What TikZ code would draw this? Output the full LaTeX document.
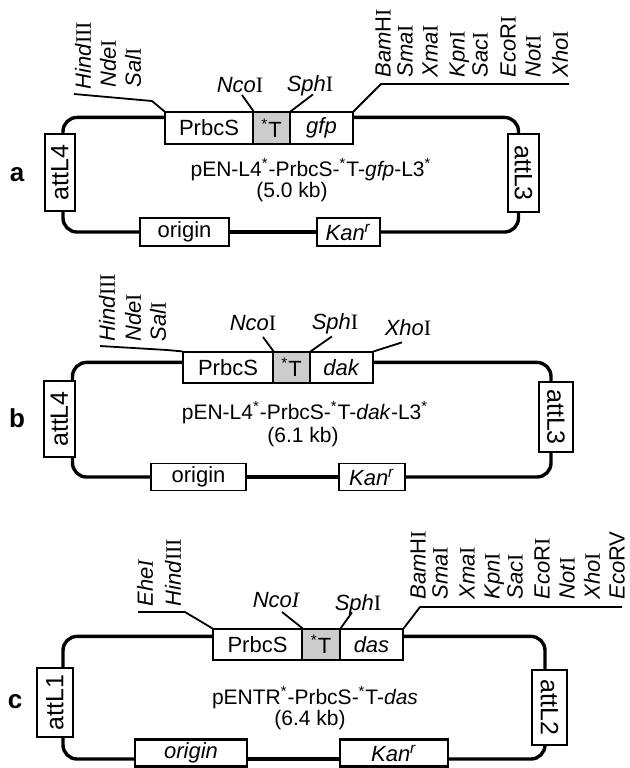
\documentclass[tikz,border=0pt]{standalone}
\usepackage{fontspec}
\setmainfont{Liberation Sans}
\newfontfamily\romfont{Liberation Serif}
\usepackage{graphicx}
\newcommand{\enz}[2]{\textit{#1}{\romfont #2}}
\newcommand{\kan}{\textit{Kan}\textsuperscript{\textit{r}}}
\newcommand{\st}{\textsuperscript{*}}
\newcommand{\att}[2]{\rotatebox{#1}{\fontsize{12.5}{13}\selectfont #2}}

\begin{document}
\begin{tikzpicture}[x=0.5pt, y=-0.5pt,
    part/.style={draw, fill=white, line width=0.6pt, inner sep=0pt, font=\fontsize{11}{12}\selectfont},
    site/.style={inner sep=0pt, text depth=0pt, font=\fontsize{11}{12}\selectfont},
    loopline/.style={line width=1.7pt, rounded corners=7pt},
    siteline/.style={line width=0.9pt},
    title/.style={inner sep=0pt, font=\fontsize{10.5}{12}\selectfont},
    panel/.style={inner sep=0pt, font=\fontsize{13}{14}\selectfont\bfseries}]
\useasboundingbox (0,0) rectangle (629,768);

% a
\node[panel] (labA) at (17,175) {a};
\node[part, minimum width=44pt, minimum height=16pt] (prA) at (209,128) {PrbcS};
\node[part, minimum width=18.5pt, minimum height=16pt, fill=gray!40] (tA) at (271.5,128) {\st T};
\node[part, minimum width=31.5pt, minimum height=16pt] (gfpA) at (321.5,128) {\textit{gfp}};
\node[part, minimum width=15pt, minimum height=38.5pt] (attLa) at (60,172.5) {\att{90}{attL4}};
\node[part, minimum width=15.5pt, minimum height=39pt] (attRa) at (523.5,173) {\att{-90}{attL3}};
\node[part, minimum width=44.5pt, minimum height=14pt] (oriA) at (184.5,232) {origin};
\node[part, minimum width=31.5pt, minimum height=14pt] (kanA) at (348.5,232) {\kan};
\node[title] (nameA) at (311,170) {pEN-L4\st-PrbcS-\st T-\textit{gfp}-L3\st};
\node[title] (sizeA) at (292,192) {(5.0 kb)};
\draw[loopline] ([yshift=-3pt]prA.north west) -| ([xshift=1.5pt]attLa.north);
\draw[loopline] ([xshift=1.5pt]attLa.south) |- (oriA.west);
\draw[loopline] (oriA.east) -- (kanA.west);
\draw[loopline] (kanA.east) -| ([xshift=-2.5pt]attRa.south);
\draw[loopline] ([yshift=-3pt]gfpA.north east) -| ([xshift=-2.5pt]attRa.north);
\node[site, rotate=90, anchor=west] (hindA) at (83,90) {\enz{Hind}{III}};
\node[site, rotate=90, anchor=west] (ndeA) at (108,88) {\enz{Nde}{I}};
\node[site, rotate=90, anchor=west] (salA) at (133,88) {\enz{Sal}{I}};
\coordinate (leftA) at (74,94);
\draw[siteline] (leftA) -- (152,101) -- (prA.north west);
\node[site] (ncoA) at (240,85) {\enz{Nco}{I}};
\node[site] (sphA) at (310,84) {\enz{Sph}{I}};
\draw[siteline] ([xshift=1pt,yshift=-1pt]ncoA.south) -- (prA.north east);
\draw[siteline] ([xshift=1.5pt,yshift=-1pt]sphA.south) -- (tA.north east);
\foreach \x/\n/\t in {383/bamA/{\textit{Bam}H{\romfont I}}, 405/smaA/{\enz{Sma}{I}},
    430/xmaA/{\enz{Xma}{I}}, 457/kpnA/{\enz{Kpn}{I}}, 480/sacA/{\enz{Sac}{I}},
    508/ecoA/{\textit{Eco}R{\romfont I}}, 533/notA/{\enz{Not}{I}}, 560/xhoA/{\enz{Xho}{I}}}
  \node[site, rotate=90, anchor=west] (\n) at (\x,78) {\t};
\coordinate (rightA) at (569,84);
\draw[siteline] (gfpA.north east) -- (381,84) -- (rightA);

% b
\node[panel] (labB) at (17,418) {b};
\node[part, minimum width=45pt, minimum height=15.5pt] (prB) at (228,367.5) {PrbcS};
\node[part, minimum width=18.5pt, minimum height=15.5pt, fill=gray!40] (tB) at (291.5,367.5) {\st T};
\node[part, minimum width=31.5pt, minimum height=15.5pt] (dakB) at (341.5,367.5) {\textit{dak}};
\node[part, minimum width=15.5pt, minimum height=38pt] (attLb) at (59.5,419) {\att{90}{attL4}};
\node[part, minimum width=17pt, minimum height=35pt] (attRb) at (556,417) {\att{-90}{attL3}};
\node[part, minimum width=47.5pt, minimum height=13.5pt] (oriB) at (198.5,477) {origin};
\node[part, minimum width=33pt, minimum height=13.5pt] (kanB) at (372,477) {\kan};
\node[title] (nameB) at (305,413) {pEN-L4\st-PrbcS-\st T-\textit{dak}-L3\st};
\node[title] (sizeB) at (303,437) {(6.1 kb)};
\draw[loopline] ([yshift=-5.5pt]prB.north west) -| ([xshift=6.5pt]attLb.north);
\draw[loopline] ([xshift=6.5pt]attLb.south) |- (oriB.west);
\draw[loopline] (oriB.east) -- (kanB.west);
\draw[loopline] (kanB.east) -| ([xshift=-2.5pt]attRb.south);
\draw[loopline] ([yshift=-5.5pt]dakB.north east) -| ([xshift=-2.5pt]attRb.north);
\node[site, rotate=90, anchor=west] (hindB) at (107,342) {\enz{Hind}{III}};
\node[site, rotate=90, anchor=west] (ndeB) at (133,342) {\enz{Nde}{I}};
\node[site, rotate=90, anchor=west] (salB) at (158,342) {\enz{Sal}{I}};
\coordinate (leftB) at (100,346);
\draw[siteline] (leftB) -- (167,350) -- (prB.north west);
\node[site] (ncoB) at (253,323) {\enz{Nco}{I}};
\node[site] (sphB) at (335,322) {\enz{Sph}{I}};
\node[site] (xhoB) at (408,328) {\enz{Xho}{I}};
\draw[siteline] ([xshift=5pt,yshift=-3pt]ncoB.south) -- (prB.north east);
\draw[siteline] ([xshift=-1.5pt,yshift=-3pt]sphB.south) -- (tB.north east);
\draw[siteline] ([xshift=-3pt,yshift=-3pt]xhoB.south) -- (dakB.north east);

% c
\node[panel] (labC) at (15,702) {c};
\node[part, minimum width=44.5pt, minimum height=15.5pt] (prC) at (257.5,644.5) {PrbcS};
\node[part, minimum width=19pt, minimum height=15.5pt, fill=gray!40] (tC) at (321,644.5) {\st T};
\node[part, minimum width=31.5pt, minimum height=15.5pt] (dasC) at (371.5,644.5) {\textit{das}};
\node[part, minimum width=18pt, minimum height=34.5pt] (attLc) at (55,702.5) {\att{90}{attL1}};
\node[part, minimum width=17.5pt, minimum height=37.5pt] (attRc) at (549.5,707.5) {\att{-90}{attL2}};
\node[part, line width=1.2pt, minimum width=56pt, minimum height=13.5pt] (oriC) at (191,753) {\textit{origin}};
\node[part, line width=1.2pt, minimum width=54pt, minimum height=13.5pt] (kanC) at (394,753) {\kan};
\node[title] (nameC) at (315,698) {pENTR\st-PrbcS-\st T-\textit{das}};
\node[title] (sizeC) at (310,720) {(6.4 kb)};
\draw[loopline] ([yshift=-4pt]prC.north west) -| ([xshift=4pt]attLc.north);
\draw[loopline] ([xshift=4pt]attLc.south) |- ([yshift=-3pt]oriC.west);
\draw[loopline] ([yshift=-3pt]oriC.east) -- ([yshift=-3pt]kanC.west);
\draw[loopline] ([yshift=-3pt]kanC.east) -| ([xshift=-2.25pt]attRc.south);
\draw[loopline] ([yshift=-4pt]dasC.north east) -| ([xshift=-2.25pt]attRc.north);
\node[site, rotate=90, anchor=west] (eheC) at (145,607) {\textit{Ehe}{\romfont\itshape I}};
\node[site, rotate=90, anchor=west] (hindC) at (173,607) {\enz{Hind}{III}};
\coordinate (leftC) at (138,612);
\draw[siteline] (leftC) -- (185,612) -- (prC.north west);
\node[site] (ncoC) at (276,600) {\textit{Nco}{\romfont\itshape I}};
\node[site] (sphC) at (358,603) {\enz{Sph}{I}};
\draw[siteline] ([xshift=3pt,yshift=-2pt]ncoC.south) -- (prC.north east);
\draw[siteline] ([xshift=-3pt,yshift=-0.5pt]sphC.south) -- (tC.north east);
\foreach \x/\n/\t in {418/bamC/{\textit{Bam}H{\romfont I}}, 440/smaC/{\enz{Sma}{I}},
    467/xmaC/{\enz{Xma}{I}}, 492/kpnC/{\enz{Kpn}{I}}, 515/sacC/{\enz{Sac}{I}},
    542/ecoC/{\textit{Eco}R{\romfont I}}, 567/notC/{\enz{Not}{I}}, 592/xhoC/{\enz{Xho}{I}},
    617/ecvC/{\textit{Eco}RV}}
  \node[site, rotate=90, anchor=west] (\n) at (\x,600) {\t};
\coordinate (rightC) at (622,607);
\draw[siteline] (dasC.north east) -- (420,607) -- (rightC);
\end{tikzpicture}
\end{document}
